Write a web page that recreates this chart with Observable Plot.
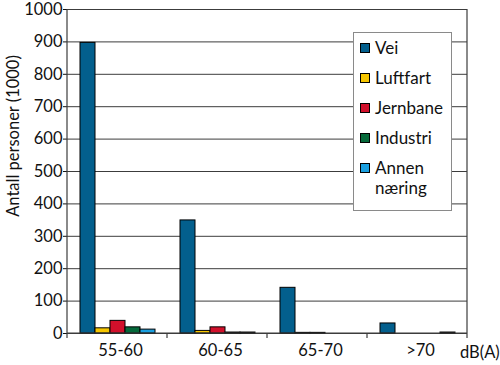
<!DOCTYPE html>
<html><head><meta charset="utf-8">
<script src="https://cdn.jsdelivr.net/npm/d3@7"></script>
<script src="https://cdn.jsdelivr.net/npm/@observablehq/plot@0.6"></script>
<style>
body{margin:0;background:#fff;font-family:Lato,sans-serif;}
#wrap{position:relative;width:500px;height:365px;overflow:hidden;}
#legend{position:absolute;left:353px;top:32px;width:99px;height:179px;background:#fff;border:1px solid #8a8a8a;box-sizing:border-box;}
.item{position:absolute;left:6px;display:flex;align-items:flex-start;font-size:17px;line-height:20px;color:#111;}
.sw{width:8px;height:8px;border:1px solid #000;margin-top:5px;margin-right:5px;flex:none;}
</style></head>
<body><div id="wrap"></div>
<script>
const groups = ["55-60", "60-65", "65-70", ">70"];
const series = ["Vei", "Luftfart", "Jernbane", "Industri", "Annen næring"];
const colors = ["#035f8d", "#f6c600", "#d1102b", "#05693a", "#1a9fdf"];
const vei      = [897, 349, 141, 31];
const luftfart = [16, 8, 2, 0];
const jernbane = [39, 19, 2, 0];
const industri = [19, 3, 0, 0];
const annen    = [12, 3, 0, 3];
const yTicks = [0, 100, 200, 300, 400, 500, 600, 700, 800, 900, 1000];
const yLabel = "Antall personer (1000)";
const xLabel = "dB(A)";

const valuesBySeries = [vei, luftfart, jernbane, industri, annen];
const data = [];
groups.forEach((g, i) => series.forEach((s, j) => data.push({group: g, series: s, value: valuesBySeries[j][i]})));

const plot = Plot.plot({
  width: 500, height: 365,
  marginLeft: 67, marginRight: 33, marginTop: 9, marginBottom: 32,
  style: {fontFamily: "Lato, sans-serif", fontSize: "16.5px", color: "#111", overflow: "visible"},
  fx: {domain: groups, padding: 0, label: null, tickSize: 0, tickPadding: 11, axis: "bottom"},
  x: {domain: series, paddingInner: 0, paddingOuter: 0.73, axis: null},
  y: {domain: [0, 1000], ticks: yTicks, tickSize: 4, tickPadding: 1, label: null, tickFormat: d => String(d)},
  color: {domain: series, range: colors},
  marks: [
    Plot.gridY(yTicks, {stroke: "#3c3c3c", strokeOpacity: 1, strokeWidth: 1}),
    Plot.barY(data.filter(d => d.value > 0), {fx: "group", x: "series", y: "value", fill: "series", stroke: "#000", strokeWidth: 1, inset: 0})
  ]
});

const wrap = document.getElementById("wrap");
wrap.appendChild(plot);

const svg = d3.select(plot);
const fx = plot.scale("fx");
const y = plot.scale("y");
const y0 = y.apply(0), y1 = y.apply(1000);
const xl = fx.range[0], xr = fx.range[1];
svg.selectAll("g[aria-label='fx-axis tick label'] text").attr("dx", 3);
const g = svg.append("g").attr("stroke", "#3c3c3c").attr("stroke-width", 1.2);
g.append("line").attr("x1", xl).attr("x2", xl).attr("y1", y1).attr("y2", y0);
g.append("line").attr("x1", xr).attr("x2", xr).attr("y1", y1).attr("y2", y0);
g.append("line").attr("x1", xl).attr("x2", xr).attr("y1", y0).attr("y2", y0);
const bounds = groups.map(d => fx.apply(d)).concat([xr]);
bounds.forEach(b => g.append("line").attr("x1", b).attr("x2", b).attr("y1", y0).attr("y2", y0 + 5));
svg.append("text").attr("transform", `translate(19,${(y0 + y1) / 2 - 35}) rotate(-90)`)
  .attr("text-anchor", "middle").attr("font-size", 16.5).attr("fill", "#111").text(yLabel);
svg.append("text").attr("x", 460).attr("y", y0 + 25).attr("text-anchor", "start")
  .attr("font-size", 16.5).attr("fill", "#111").text(xLabel);

// legend
const leg = document.createElement("div");
leg.id = "legend";
series.forEach((s, i) => {
  const it = document.createElement("div");
  it.className = "item";
  it.style.top = (5 + i * 30) + "px";
  const sw = document.createElement("div");
  sw.className = "sw"; sw.style.background = colors[i];
  const tx = document.createElement("div");
  tx.style.width = "75px";
  tx.textContent = s;
  it.appendChild(sw); it.appendChild(tx);
  leg.appendChild(it);
});
wrap.appendChild(leg);
</script></body></html>
